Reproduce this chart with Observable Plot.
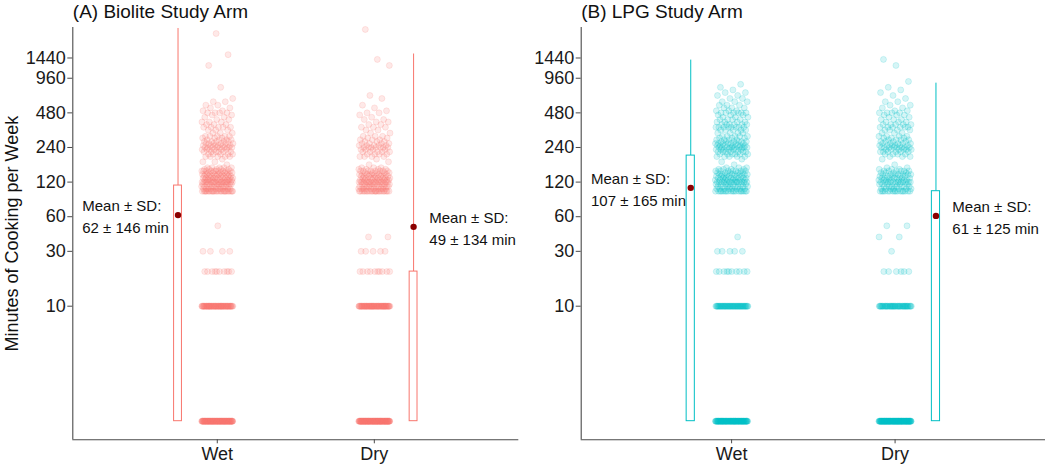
<!DOCTYPE html>
<html><head><meta charset="utf-8">
<script src="https://cdn.jsdelivr.net/npm/d3@7"></script>
<script src="https://cdn.jsdelivr.net/npm/@observablehq/plot@0.6"></script>
<style>
body{margin:0;background:#fff;font-family:"Liberation Sans",Arial,sans-serif;}
#wrap{display:flex;width:1050px;height:466px;overflow:hidden;}
#wrap svg{display:block;}
</style></head><body><div id="wrap"></div>
<script>
// ---- data ----
const panelTitles = ["(A) Biolite Study Arm", "(B) LPG Study Arm"];
const categories = ["Wet", "Dry"];
const panelColors = ["#F8766D", "#00BFC4"];
const yTicks = [10, 30, 60, 120, 240, 480, 960, 1440];
const yLabel = "Minutes of Cooking per Week";

// observed weekly minutes (value levels) and how many household-weeks sit at each level
const levels = [0,10,20,30,40,50,100,105,110,115,120,125,130,135,140,145,150,155,160,170,180,190,200,210,220,230,240,250,260,270,280,290,300,320,340,360,380,400,420,440,460,480,500,530,560,600,640,680,720,760,800,850,900,1000,1100,1240,1400,1540,1800,2350,2550];
const countsBioliteWet = [110,70,10,4,0,1,25,10,10,10,18,10,10,8,10,6,10,5,5,1,2,1,5,5,6,6,9,6,6,5,4,3,5,3,3,5,3,3,2,2,2,4,2,2,2,2,1,0,0,0,1,0,0,0,0,1,0,1,0,1,0];
const countsBioliteDry = [120,70,10,5,2,0,22,10,10,9,16,9,9,7,9,5,8,4,3,1,1,1,4,4,5,4,7,5,4,3,3,2,3,2,2,3,2,2,2,1,1,2,1,1,1,0,1,1,0,0,0,0,0,0,0,1,1,0,0,0,1];
const countsLpgWet = [100,55,10,5,1,0,18,8,8,7,14,8,8,6,8,5,7,4,3,1,1,1,5,6,7,7,10,7,7,6,4,3,5,4,5,8,6,4,4,3,3,6,3,3,3,3,2,2,2,1,1,1,0,0,0,0,0,0,0,0,0];
const countsLpgDry = [120,50,6,1,2,2,16,7,7,6,12,7,7,5,7,4,6,3,2,1,0,1,3,4,6,6,8,6,5,4,4,3,4,3,4,6,5,3,3,2,3,4,2,2,2,2,1,1,1,1,1,0,1,0,0,1,1,0,0,0,0];

// box summaries (Wet, Dry)
const boxQ1Biolite = [0, 0];
const boxQ3Biolite = [112, 20];
const whiskerTopBiolite = [2600, 1560];
const meanBiolite = [62, 49];
const sdBiolite = [146, 134];
const boxQ1Lpg = [0, 0];
const boxQ3Lpg = [204, 100];
const whiskerTopLpg = [1380, 870];
const meanLpg = [107, 61];
const sdLpg = [165, 125];

// ---- layout ----
const W = 525, H = 466;
const xDomain = [-0.92, 1.92];
const yDomain = [0.689, 2652];
const boxOffset = 0.25, boxHalf = 0.025, jitterWidth = 0.2;
const font = '"Liberation Sans", Arial, sans-serif';

function buildPanel(k, countsByCat, q1, q3, wTop, means, sds, margins) {
  const color = panelColors[k];
  const pts = [];
  countsByCat.forEach((counts, c) => {
    let i = 0;
    counts.forEach((n, li) => {
      for (let j = 0; j < n; j++) pts.push({c, v: Math.max(levels[li], 1), i: i++});
    });
  });
  const stats = categories.map((cat, c) => ({c, q1: q1[c], q3: q3[c], top: wTop[c], mean: means[c], sd: sds[c]}));
  const bx = d => d.c + (d.c === 0 ? -boxOffset : boxOffset);
  const jitter = d => d.c + ((((d.i + 1) * 0.6180339887) % 1) - 0.5) * jitterWidth;
  const marks = [
    Plot.ruleX(stats, {x: bx, y1: d => d.q3, y2: d => d.top, stroke: color, strokeWidth: 1}),
    Plot.rect(stats, {x1: d => bx(d) - boxHalf, x2: d => bx(d) + boxHalf, y1: d => Math.max(d.q1, 1), y2: d => d.q3, fill: "white", stroke: color, strokeWidth: 1}),
    Plot.dot(pts, {x: jitter, y: "v", r: 3, fill: color, fillOpacity: 0.16, stroke: color, strokeOpacity: 0.16, strokeWidth: 1}),
    Plot.dot(stats, {x: bx, y: "mean", r: 3.2, fill: "#8B0000", stroke: "none"}),
    Plot.text(stats, {x: d => d.c === 0 ? d.c - 0.86 : d.c + 0.35, y: "mean",
      text: d => `Mean ± SD:\n${d.mean} ± ${d.sd} min`, textAnchor: "start",
      fontSize: 15, lineHeight: 1.44, fill: "#111"}),
    Plot.ruleX([xDomain[0]], {stroke: "#4a4a4a", strokeWidth: 1.1}),
    Plot.ruleY([yDomain[0]], {stroke: "#4a4a4a", strokeWidth: 1.1}),
    Plot.axisY(yTicks, {tickFormat: () => "", tickSize: 5, stroke: "#4a4a4a", label: null}),
    Plot.text(yTicks, {y: d => d, text: d => String(d), frameAnchor: "left", dx: -7,
      textAnchor: "end", fontSize: 18, fill: "#1a1a1a"}),
    Plot.axisX([0, 1], {tickFormat: i => categories[i], tickSize: 4, tickPadding: 3,
      fontSize: 18, fill: "#1a1a1a", stroke: "#4a4a4a", label: null}),
    Plot.text([panelTitles[k]], {text: d => d, frameAnchor: "top-left", textAnchor: "start",
      lineAnchor: "bottom", dy: -10, fontSize: 19, fill: "#111"})
  ];
  if (margins.label) {
    marks.push(Plot.text([margins.label], {text: d => d, frameAnchor: "left", rotate: -90,
      dx: -margins.labelOffset, fontSize: 18, fill: "#111", textAnchor: "middle", lineAnchor: "middle"}));
  }
  return Plot.plot({
    width: W, height: H,
    marginTop: 27, marginBottom: H - 439.3,
    marginLeft: margins.left, marginRight: margins.right,
    style: {fontFamily: font, background: "white", overflow: "visible"},
    x: {type: "linear", domain: xDomain},
    y: {type: "log", domain: yDomain},
    marks
  });
}

const wrap = document.getElementById("wrap");
wrap.appendChild(buildPanel(0, [countsBioliteWet, countsBioliteDry], boxQ1Biolite, boxQ3Biolite, whiskerTopBiolite, meanBiolite, sdBiolite,
  {left: 72.3, right: W - 518.3, label: yLabel, labelOffset: 60.5}));
wrap.appendChild(buildPanel(1, [countsLpgWet, countsLpgDry], boxQ1Lpg, boxQ3Lpg, whiskerTopLpg, meanLpg, sdLpg,
  {left: 580.7 - W, right: 2 * W - 1045, label: null, labelOffset: 0}));
</script></body></html>
